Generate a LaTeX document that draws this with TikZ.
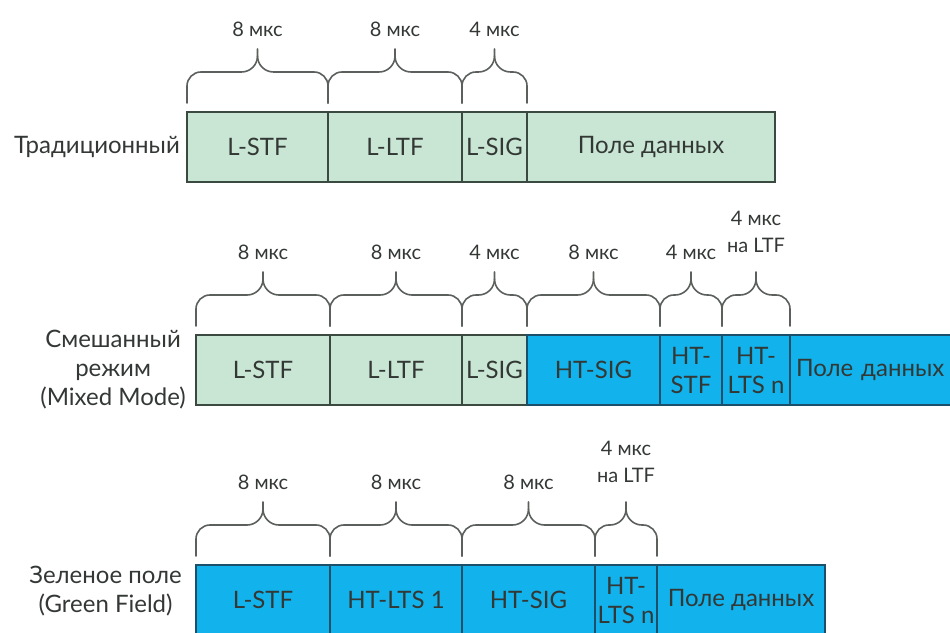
\documentclass[tikz,border=0pt]{standalone}
\usepackage{fontspec}
\setmainfont{Lato}
\usepackage{tikz}
\usetikzlibrary{positioning, calc}

\definecolor{legacy}{HTML}{C9E6D5}
\definecolor{legacyline}{HTML}{3A4A40}
\definecolor{htblue}{HTML}{12B2EC}
\definecolor{htline}{HTML}{1B4F6A}
\definecolor{ink}{HTML}{333835}

% brace over a field: #2 field node, #3 duration text, #1 label height
\newcommand{\durbrace}[3][75]{%
  \draw[brc] ($(#2.north west)+(0,9)$) -- ++(0,17)
    to[out=90,in=180] ($(#2.north west)+(14,40)$) -- ($(#2.north)+(-16,40)$)
    to[out=0,in=-90] ($(#2.north)+(0,56)$) -- ++(0,7);
  \draw[brc] ($(#2.north east)+(0,9)$) -- ++(0,17)
    to[out=90,in=0] ($(#2.north east)+(-14,40)$) -- ($(#2.north)+(16,40)$)
    to[out=180,in=-90] ($(#2.north)+(0,56)$);
  \node[dur, anchor=south] at ($(#2.north)+(0,#1)$) {#3};
}

\begin{document}
\begin{tikzpicture}[
  x=1pt, y=1pt,
  node distance=0pt,
  every node/.style={font=\fontsize{24}{29}\selectfont, text=ink},
  field/.style={draw, line width=2pt, minimum height=70pt, inner sep=0pt,
                outer sep=0pt, align=center},
  old/.style={field, fill=legacy, draw=legacyline},
  ht/.style={field, fill=htblue, draw=htline},
  dur/.style={inner sep=0pt, align=center, font=\fontsize{20}{27}\selectfont},
  mode/.style={align=center, inner sep=0pt},
  brc/.style={line width=1.6pt, draw=ink!80, line cap=round}
]
\clip (0,0) rectangle (950,632);

% traditional
\node[old, minimum width=141pt, anchor=west] (ta) at (187,485) {L-STF};
\node[old, minimum width=134pt, right=of ta] (tb) {L-LTF};
\node[old, minimum width=65pt, right=of tb] (tc) {L-SIG};
\node[old, minimum width=248pt, right=of tc] (td) {Поле данных};
\node[mode, left=7pt of ta] (tl) {Традиционный};
\durbrace{ta}{8 мкс}
\durbrace{tb}{8 мкс}
\durbrace{tc}{4 мкс}

% mixed mode
\node[old, minimum width=134pt, anchor=west] (ma) at (196,262) {L-STF};
\node[old, minimum width=132pt, right=of ma] (mb) {L-LTF};
\node[old, minimum width=65pt, right=of mb] (mc) {L-SIG};
\node[ht, minimum width=133pt, right=of mc] (md) {HT-SIG};
\node[ht, minimum width=62pt, right=of md] (me) {HT-\\STF};
\node[ht, minimum width=68pt, right=of me] (mf) {HT-\\LTS n};
\node[ht, minimum width=200pt, right=of mf, text width=200pt, align=left]
  (mg) {\hspace{6pt}Поле данных};
\node[mode, left=10pt of ma] (ml) {Смешанный\\режим\\(Mixed Mode)};
\durbrace{ma}{8 мкс}
\durbrace{mb}{8 мкс}
\durbrace{mc}{4 мкс}
\durbrace{md}{8 мкс}
\durbrace{me}{4 мкс}
\durbrace[82]{mf}{4 мкс\\на LTF}

% green field
\node[ht, minimum width=134pt, anchor=west] (ga) at (196,32) {L-STF};
\node[ht, minimum width=132pt, right=of ga] (gb) {HT-LTS 1};
\node[ht, minimum width=133pt, right=of gb] (gc) {HT-SIG};
\node[ht, minimum width=62pt, right=of gc] (gd) {HT-\\LTS n};
\node[ht, minimum width=168pt, right=of gd] (ge) {Поле данных};
\node[mode, left=14pt of ga, yshift=9pt] (gl) {Зеленое поле\\(Green Field)};
\durbrace{ga}{8 мкс}
\durbrace{gb}{8 мкс}
\durbrace{gc}{8 мкс}
\durbrace[82]{gd}{4 мкс\\на LTF}
\end{tikzpicture}
\end{document}
